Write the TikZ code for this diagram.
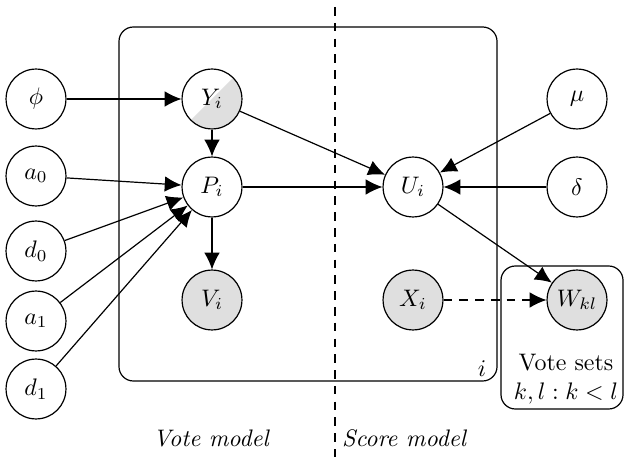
\documentclass[tikz,border=0pt]{standalone}
\usepackage{amsmath,amssymb}
\usetikzlibrary{positioning, arrows.meta, calc}

\tikzset{
  var/.style={circle, draw, minimum size=0.88cm, inner sep=0pt},
  obs/.style={var, fill=gray!25},
  half/.style={var, path picture={
      \fill[gray!25] (path picture bounding box.south west) -- (path picture bounding box.north east)
        -- (path picture bounding box.south east) -- cycle;}},
  plate/.style={draw, rounded corners=6pt},
  edge/.style={-{Latex[length=7pt,width=6.5pt]}},
}

\begin{document}
\begin{tikzpicture}[x=0.0147cm, y=-0.0147cm, line width=0.5pt]
        \useasboundingbox (0,0) rectangle (624,457);

        % plates
        \draw[plate] (119,27) rectangle (497,381);
        \node (ilab) at (482,369) {$i$};
        \draw[plate] (501,266) rectangle (623,409);
        \node[align=center, inner sep=0pt] (sets) at (566,379) {Vote sets\\$k,l : k<l$};

        % split line
        \coordinate (top) at (335,7);
        \coordinate (bot) at (335,457);
        \draw[dash pattern=on 3.6pt off 3pt] (top) -- (bot);
        \node[font=\itshape] (vm) at (211,438) {Vote model};
        \node[font=\itshape] (sm) at (404,438) {Score model};

        % variables
        \node[var] (phi) at (36,99) {$\phi$};
        \node[half] (Y) at (212,99) {$Y_i$};
        \node[var] (mu) at (577,99) {$\mu$};
        \node[var] (a0) at (36,176) {$a_0$};
        \node[var] (d0) at (36,251) {$d_0$};
        \node[var] (a1) at (36,321) {$a_1$};
        \node[var] (d1) at (36,389) {$d_1$};
        \node[var] (P) at (212,187) {$P_i$};
        \node[var] (U) at (413,187) {$U_i$};
        \node[var] (delta) at (577,187) {$\delta$};
        \node[obs] (V) at (212,300) {$V_i$};
        \node[obs] (X) at (413,300) {$X_i$};
        \node[obs] (W) at (577,300) {$W_{kl}$};

        \draw[edge]
            (phi) edge (Y)
            (Y) edge (P)
            (Y) edge (U)
            (a0) edge (P)
            (d0) edge (P)
            (a1) edge (P)
            (d1) edge (P)
            (P) edge (U)
            (P) edge (V)
            (mu) edge (U)
            (delta) edge (U)
            (U) edge (W)
            ;
        \draw[edge, dash pattern=on 3.6pt off 3pt] (X) -- (W);
    \end{tikzpicture}
\end{document}
